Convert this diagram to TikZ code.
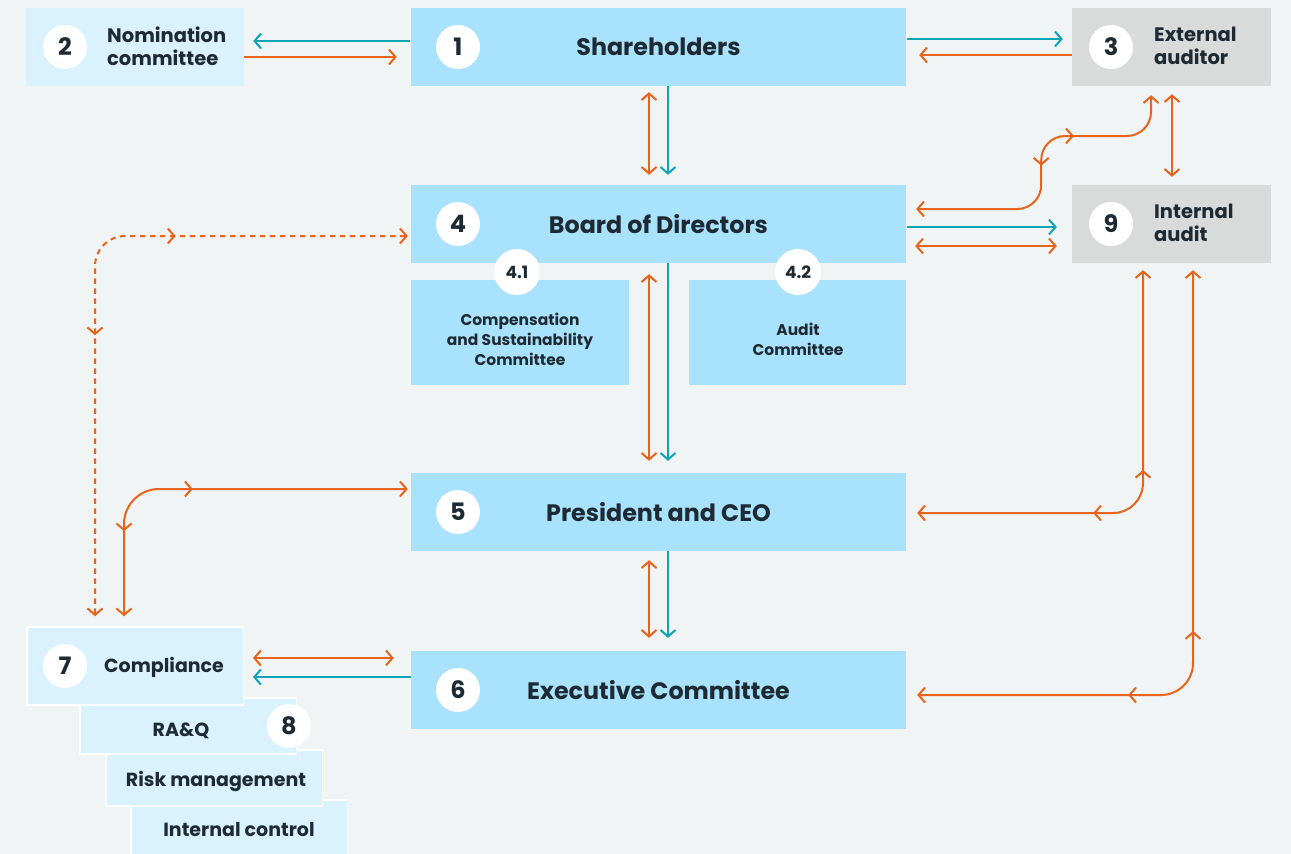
\documentclass[tikz,border=0pt]{standalone}
\usepackage{fontspec}
\setmainfont{Poppins}
\usetikzlibrary{arrows.meta,calc,decorations.markings}

\definecolor{bg}{HTML}{F0F4F5}
\definecolor{boxblue}{HTML}{A9E2FC}
\definecolor{paleblue}{HTML}{DAF2FD}
\definecolor{boxgrey}{HTML}{D9DADA}
\definecolor{ink}{HTML}{1E2A33}
\definecolor{flow}{HTML}{E8641C}
\definecolor{report}{HTML}{0EA5B4}

\newcommand\fontMain{\fontsize{23.8}{28}\selectfont\bfseries}
\newcommand\fontSide{\fontsize{19.5}{23}\selectfont\bfseries}
\newcommand\fontStack{\fontsize{19}{23}\selectfont\bfseries}
\newcommand\fontSub{\fontsize{15.5}{20}\selectfont\bfseries}
\newcommand\fontNum{\fontsize{24}{24}\selectfont\bfseries}
\newcommand\fontSubNum{\fontsize{17}{17}\selectfont\bfseries}

\tikzset{
  >={Straight Barb[length=6.5pt,width=15pt]},
  every node/.style={text=ink, inner sep=0pt},
  mainbox/.style={rectangle, fill=boxblue, minimum width=495pt, minimum height=78pt, font=\fontMain},
  sidebox/.style={rectangle, fill=#1, minimum width=218pt, minimum height=78pt},
  subbox/.style={rectangle, fill=boxblue, minimum width=218pt, minimum height=105pt},
  stackbox/.style={rectangle, fill=paleblue, draw=white, line width=1.5pt, minimum width=216.5pt, minimum height=#1},
  num/.style={circle, fill=white, minimum size=44pt, font=\fontNum},
  subnum/.style={circle, fill=white, minimum size=46pt, font=\fontSubNum},
  orangeline/.style={draw=flow, line width=2pt},
  tealline/.style={draw=report, line width=2pt},
  dotline/.style={draw=flow, line width=2pt, dash pattern=on 5.5pt off 4.5pt},
  mid fwd/.style={postaction={decorate,decoration={markings,mark=at position #1 with {\arrow{>}}}}},
  mid back/.style={postaction={decorate,decoration={markings,mark=at position #1 with {\arrowreversed{>}}}}},
}

\begin{document}
\begin{tikzpicture}[x=1pt,y=-1pt]
  \useasboundingbox (0,0) rectangle (1291,854);
  \fill[bg] (0,0) rectangle (1291,854);

  % top row
  \node[sidebox=paleblue] (nom) at (135,47) {};
  \node[mainbox] (sh) at (658.5,47) {Shareholders};
  \node[sidebox=boxgrey, minimum width=199pt] (ext) at (1171.5,47) {};
  \node[anchor=west, align=left, font=\fontSide] (nomtxt) at (107,46) {Nomination\\committee};
  \node[anchor=west, align=left, font=\fontSide] (exttxt) at (1154,46) {External\\auditor};

  % board level
  \node[mainbox] (bod) at (658.5,224) {Board of Directors};
  \node[sidebox=boxgrey, minimum width=199pt] (ia) at (1171.5,224) {};
  \node[anchor=west, align=left, font=\fontSide] (iatxt) at (1154,223) {Internal\\audit};

  % board committees
  \node[subbox] (c41) at (520,332.5) {};
  \node[subbox, minimum width=217pt] (c42) at (797.5,332.5) {};
  \node[align=center, font=\fontSub] (c41txt) at (520,339) {Compensation\\and Sustainability\\Committee};
  \node[align=center, font=\fontSub] (c42txt) at (798,339) {Audit\\Committee};

  % management
  \node[mainbox] (ceo) at (658.5,512) {President and CEO};
  \node[mainbox] (exe) at (658.5,690) {Executive Committee};

  % compliance stack, drawn back to front
  \node[stackbox=70pt] (ictrl) at (239,835) {};
  \node[stackbox=56pt] (risk) at (214,778) {};
  \node[stackbox=56pt] (raq) at (188,726) {};
  \node[stackbox=78pt] (comp) at (135,666) {};
  \node[anchor=west, font=\fontStack] (comptxt) at (104,667) {Compliance};
  \node[font=\fontStack] (raqtxt) at (181,731) {RA\&Q};
  \node[font=\fontStack] (risktxt) at (216,781) {Risk management};
  \node[font=\fontStack] (ictrltxt) at (239,830) {Internal control};

  % number badges
  \node[num] (n1) at (458,47) {1};
  \node[num] (n2) at (65,47) {2};
  \node[num] (n3) at (1111,47) {3};
  \node[num] (n4) at (458,224) {4};
  \node[num] (n9) at (1111,224) {9};
  \node[subnum] (n41) at (517,272) {4.1};
  \node[subnum] (n42) at (798,272) {4.2};
  \node[num] (n5) at (458,512) {5};
  \node[num] (n6) at (458,690) {6};
  \node[num] (n7) at (65,666) {7};
  \node[num] (n8) at (289,726) {8};

  % shareholders <-> nomination committee
  \draw[tealline, ->] ($(sh.west)+(-1,-6)$) -- ($(nom.east)+(9,-6)$);
  \draw[orangeline, ->] ($(nom.east)+(0,10)$) -- ($(sh.west)+(-14,10)$);

  % shareholders <-> external auditor
  \draw[tealline, ->] ($(sh.east)+(1,-8)$) -- ($(ext.west)+(-9,-8)$);
  \draw[orangeline, ->] ($(ext.west)+(0,8)$) -- ($(sh.east)+(13,8)$);

  % shareholders <-> board
  \draw[orangeline, <->] ($(sh.south)+(-9.5,6)$) -- ($(bod.north)+(-9.5,-10)$);
  \draw[tealline, ->] ($(sh.south)+(9.5,0)$) -- ($(bod.north)+(9.5,-10)$);

  % external auditor <-> internal audit
  \draw[orangeline, <->] ($(ext.south)+(0.5,8)$) -- ($(ia.north)+(0.5,-8)$);

  % board <-> external auditor
  \draw[orangeline, <->, rounded corners=24pt, mid back=158pt, mid fwd=210pt]
    ($(bod.east)+(10,-15)$) -- ++(125,0) -- ++(0,-73) -| ($(ext.south)+(-20.5,9)$);

  % board <-> internal audit
  \draw[tealline, ->] ($(bod.east)+(1,3)$) -- ($(ia.west)+(-15,3)$);
  \draw[orangeline, <->] ($(bod.east)+(9,22)$) -- ($(ia.west)+(-15,22)$);

  % board <-> president
  \draw[orangeline, <->] ($(bod.south)+(-9.5,11)$) -- ($(ceo.north)+(-9.5,-12)$);
  \draw[tealline, ->] ($(bod.south)+(9.5,0)$) -- ($(ceo.north)+(9.5,-12)$);

  % president <-> executive committee
  \draw[orangeline, <->] ($(ceo.south)+(-9.5,9)$) -- ($(exe.north)+(-9.5,-13)$);
  \draw[tealline, ->] ($(ceo.south)+(9.5,0)$) -- ($(exe.north)+(9.5,-13)$);

  % compliance <-> executive committee
  \draw[orangeline, <->] ($(comp.east)+(9,-8)$) -- ($(exe.west)+(-17,-32)$);
  \draw[tealline, ->] ($(exe.west)+(0,-13)$) -- ($(comp.east)+(9,11)$);

  % compliance <-> board (dotted)
  \draw[dotline, <->, rounded corners=30pt, mid back=281pt, mid fwd=448pt]
    ($(comp.north)+(-40,-10)$) |- ($(bod.west)+(-3,12)$);

  % compliance <-> president
  \draw[orangeline, <->, rounded corners=35pt, mid back=85pt, mid fwd=181pt]
    ($(comp.north)+(-11,-10)$) |- ($(ceo.west)+(-3,-23)$);

  % internal audit <-> president
  \draw[orangeline, <->, rounded corners=30pt, mid back=176pt, mid fwd=256pt]
    ($(ceo.east)+(11,1)$) -| ($(ia.south)+(-28.5,7)$);

  % internal audit <-> executive committee
  \draw[orangeline, <->, rounded corners=32pt, mid back=211pt, mid fwd=326pt]
    ($(exe.east)+(11,5)$) -| ($(ia.south)+(21.5,7)$);
\end{tikzpicture}
\end{document}
